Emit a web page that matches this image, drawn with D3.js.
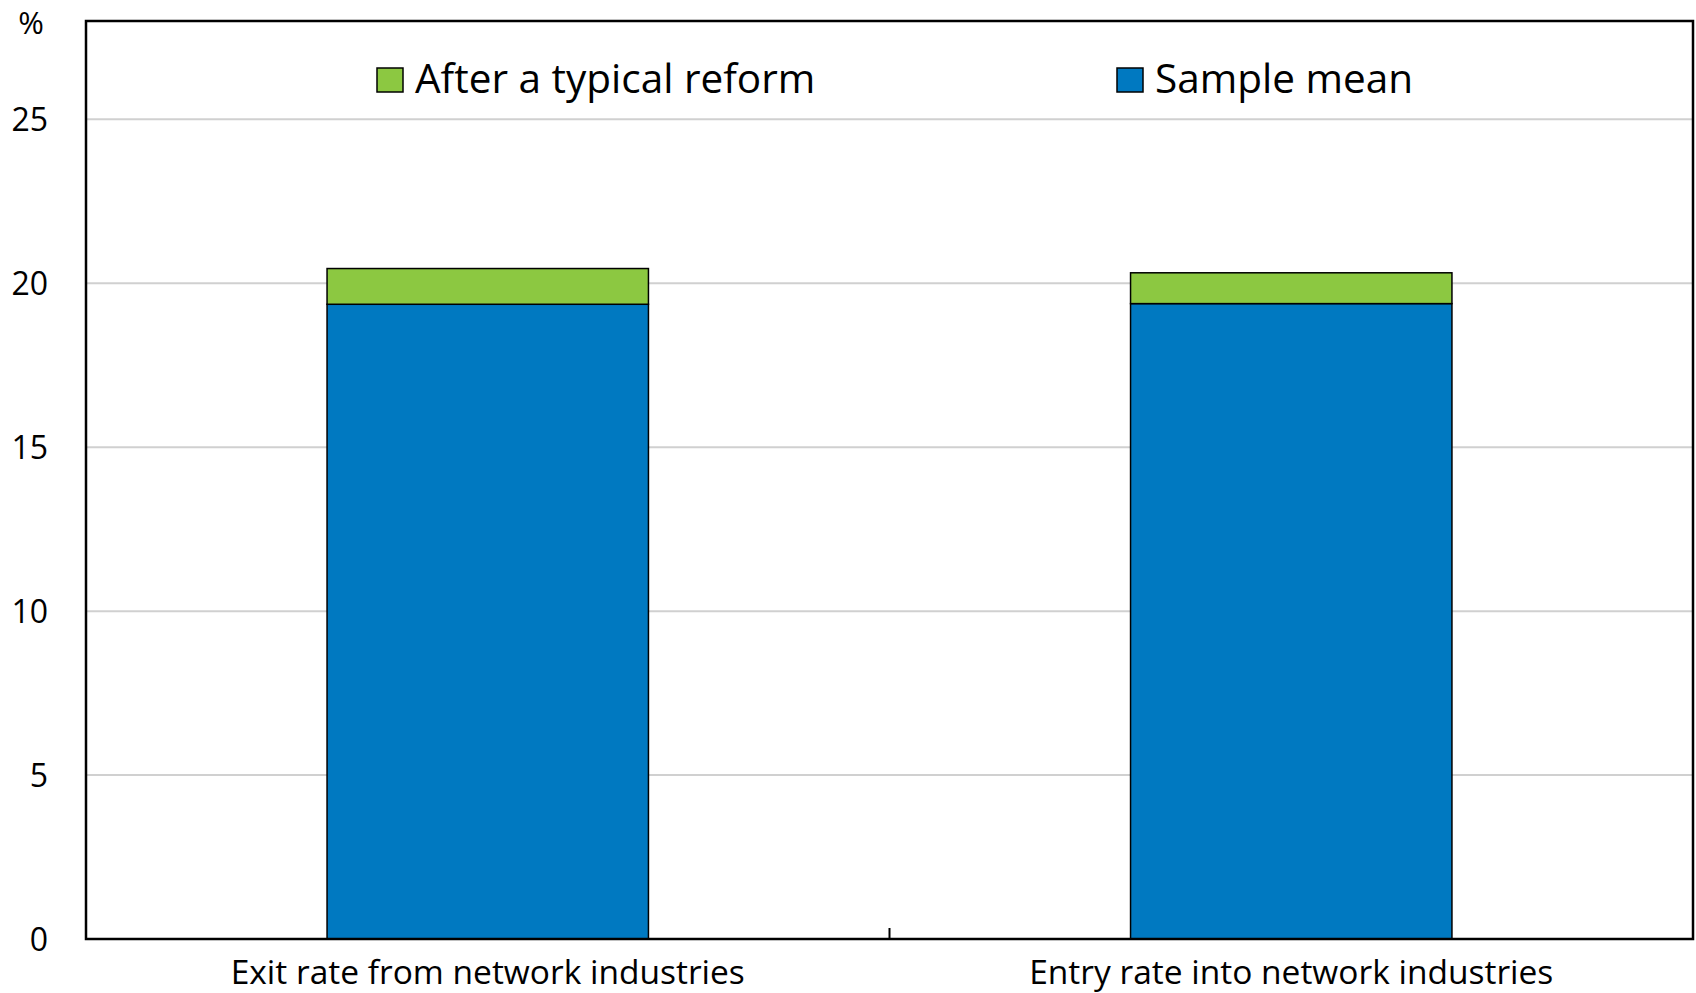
<!DOCTYPE html>
<html>
<head>
<meta charset="utf-8">
<script src="https://cdn.jsdelivr.net/npm/d3@7"></script>
<style>
  html, body { margin: 0; padding: 0; background: #fff; }
  svg { display: block; }
  text { font-family: "Open Sans", "Noto Sans", sans-serif; fill: #000; }
</style>
</head>
<body>
<svg id="chart" width="1696" height="993"></svg>
<script>
// Data
const categories = ["Exit rate from network industries", "Entry rate into network industries"];
const sampleMean = [19.36, 19.38];
const reformGain = [1.09, 0.94];
const seriesNames = ["After a typical reform", "Sample mean"];
const seriesColors = ["#8CC841", "#0079C1"];
const yTicks = [0, 5, 10, 15, 20, 25];
const yMax = 28;

const svg = d3.select("#chart");
const m = { left: 86, right: 1693, top: 21, bottom: 939 };

const x = d3.scaleBand()
  .domain(categories)
  .range([m.left, m.right])
  .paddingInner(0.6)
  .paddingOuter(0.3);

const y = d3.scaleLinear().domain([0, yMax]).range([m.bottom, m.top]);

// Gridlines
svg.append("g")
  .selectAll("line")
  .data(yTicks.filter(d => d > 0))
  .join("line")
  .attr("x1", m.left).attr("x2", m.right)
  .attr("y1", d => y(d)).attr("y2", d => y(d))
  .attr("stroke", "#d0d0d0").attr("stroke-width", 2);

// Stacked bars
const rows = categories.map((c, i) => ({ cat: c, mean: sampleMean[i], gain: reformGain[i] }));
const bars = svg.append("g");
bars.selectAll("rect.mean")
  .data(rows)
  .join("rect")
  .attr("class", "mean")
  .attr("x", d => x(d.cat))
  .attr("width", x.bandwidth())
  .attr("y", d => y(d.mean))
  .attr("height", d => y(0) - y(d.mean))
  .attr("fill", seriesColors[1])
  .attr("stroke", "#000").attr("stroke-width", 1.5);
bars.selectAll("rect.gain")
  .data(rows)
  .join("rect")
  .attr("class", "gain")
  .attr("x", d => x(d.cat))
  .attr("width", x.bandwidth())
  .attr("y", d => y(d.mean + d.gain))
  .attr("height", d => y(d.mean) - y(d.mean + d.gain))
  .attr("fill", seriesColors[0])
  .attr("stroke", "#000").attr("stroke-width", 1.5);

// Plot frame
svg.append("rect")
  .attr("x", m.left).attr("y", m.top)
  .attr("width", m.right - m.left).attr("height", m.bottom - m.top)
  .attr("fill", "none").attr("stroke", "#000").attr("stroke-width", 2.5);

// Y axis labels
const yAxis = d3.axisLeft(y).tickValues(yTicks).tickSize(0).tickPadding(38);
const gy = svg.append("g").attr("transform", `translate(${m.left},0)`).call(yAxis);
gy.select(".domain").remove();
gy.selectAll("text")
  .style("font-size", "32px")
  .style("font-family", "'Open Sans', 'Noto Sans', sans-serif")
  .attr("fill", "#000")
  .attr("dy", "0.35em");

svg.append("text")
  .attr("x", 31).attr("y", 34)
  .attr("text-anchor", "middle")
  .style("font-size", "31px")
  .text("%");

// X axis: category labels and the divider tick between groups
const xAxis = d3.axisBottom(x).tickSize(0).tickPadding(0);
const gx = svg.append("g").attr("transform", `translate(0,${m.bottom})`).call(xAxis);
gx.select(".domain").remove();
gx.selectAll("text")
  .style("font-size", "33.5px")
  .style("font-family", "'Open Sans', 'Noto Sans', sans-serif")
  .attr("fill", "#000")
  .attr("y", 45)
  .attr("dy", 0);

const mid = (x(categories[0]) + x.bandwidth() + x(categories[1])) / 2;
svg.append("line")
  .attr("x1", mid).attr("x2", mid)
  .attr("y1", m.bottom).attr("y2", m.bottom - 11)
  .attr("stroke", "#000").attr("stroke-width", 2);

// Legend
const legendItems = [
  { name: seriesNames[0], color: seriesColors[0], x: 377 },
  { name: seriesNames[1], color: seriesColors[1], x: 1117 }
];
const lg = svg.append("g").selectAll("g").data(legendItems).join("g")
  .attr("transform", d => `translate(${d.x},68)`);
lg.append("rect")
  .attr("width", 26).attr("height", 24)
  .attr("fill", d => d.color)
  .attr("stroke", "#000").attr("stroke-width", 1.5);
lg.append("text")
  .attr("x", 38).attr("y", 25)
  .style("font-size", "40.5px")
  .text(d => d.name);
</script>
</body>
</html>
